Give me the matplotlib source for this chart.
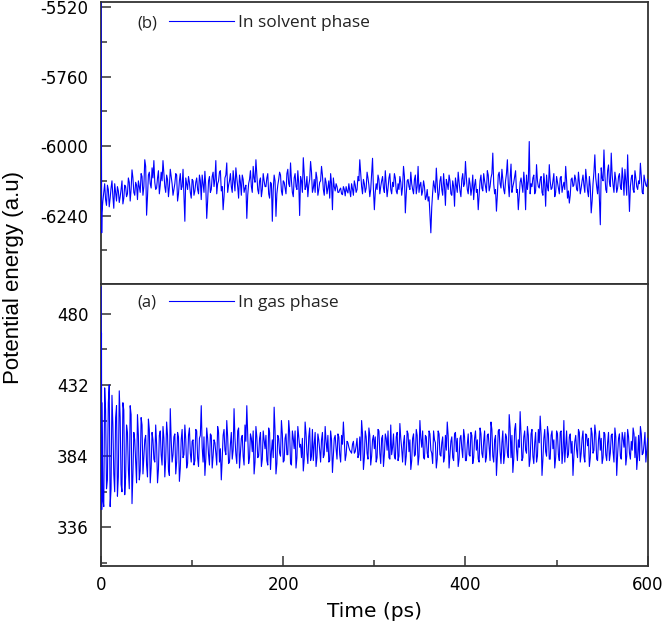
import matplotlib
matplotlib.use("Agg")
import matplotlib.pyplot as plt
from matplotlib.ticker import MultipleLocator
import numpy as np

plt.rcParams["axes.unicode_minus"] = False

# potential energy traces
# head: first picoseconds; *_EVEN: t = 2, 4, ..., 600 ps; *_ODD: t = 1, 3, ..., 599 ps
TIME_HEAD = [0.0, 0.25, 0.5, 0.75]
SOLVENT_HEAD = [-5505, -5800, -6050, -6300]
GAS_HEAD = [498, 440, 467, 348]

SOLVENT_EVEN = [
    -6190, -6130, -6205, -6150, -6180, -6120, -6215, -6160, -6140, -6195,
    -6150, -6200, -6135, -6175, -6110, -6190, -6082, -6160, -6125, -6185,
    -6140, -6095, -6170, -6047, -6239, -6100, -6130, -6075, -6050, -6150,
    -6110, -6165, -6090, -6050, -6140, -6100, -6175, -6080, -6130, -6150,
    -6095, -6190, -6120, -6150, -6080, -6260, -6130, -6105, -6160, -6115,
    -6170, -6125, -6150, -6100, -6185, -6130, -6087, -6250, -6120, -6160,
    -6105, -6140, -6050, -6130, -6090, -6155, -6220, -6110, -6058, -6135,
    -6095, -6160, -6120, -6075, -6140, -6100, -6170, -6115, -6145, -6250,
    -6130, -6085, -6160, -6110, -6047, -6150, -6120, -6175, -6095, -6140,
    -6110, -6165, -6125, -6260, -6100, -6243, -6135, -6090, -6155, -6120,
    -6145, -6095, -6130, -6058, -6160, -6110, -6140, -6085, -6240, -6120,
    -6040, -6150, -6105, -6135, -6053, -6160, -6115, -6090, -6170, -6125,
    -6070, -6150, -6110, -6165, -6120, -6095, -6220, -6140, -6130, -6160,
    -6150, -6165, -6140, -6172, -6155, -6130, -6175, -6148, -6120, -6160,
    -6105, -6047, -6140, -6115, -6160, -6090, -6135, -6150, -6042, -6220,
    -6130, -6100, -6165, -6120, -6145, -6085, -6175, -6110, -6150, -6125,
    -6095, -6155, -6130, -6105, -6170, -6070, -6231, -6120, -6140, -6090,
    -6150, -6115, -6165, -6070, -6135, -6170, -6120, -6185, -6150, -6175,
    -6300, -6160, -6140, -6076, -6185, -6120, -6150, -6095, -6205, -6130,
    -6100, -6165, -6120, -6208, -6135, -6090, -6155, -6115, -6140, -6053,
    -6150, -6110, -6170, -6100, -6135, -6160, -6220, -6120, -6145, -6095,
    -6140, -6085, -6155, -6110, -6024, -6165, -6225, -6100, -6130, -6080,
    -6150, -6120, -6047, -6175, -6062, -6140, -6105, -6160, -6220, -6125,
    -6135, -6090, -6220, -6150, -5984, -6130, -6110, -6165, -6064, -6140,
    -6115, -6160, -6095, -6208, -6140, -6064, -6150, -6120, -6175, -6105,
    -6145, -6110, -6160, -6125, -6070, -6180, -6197, -6115, -6140, -6100,
    -6150, -6090, -6165, -6120, -6135, -6080, -6155, -6105, -6231, -6130,
    -6030, -6140, -6095, -6272, -6110, -6013, -6150, -6085, -6125, -6024,
    -6135, -6090, -6160, -6105, -6140, -6075, -6170, -6120, -6030, -6226,
    -6110, -6150, -6085, -6140, -6120, -6059, -6160, -6100, -6135, -6115,
]

SOLVENT_ODD = [
    -6230, -6160, -6185, -6135, -6210, -6145, -6175, -6130, -6190, -6155,
    -6175, -6120, -6180, -6140, -6165, -6125, -6150, -6110, -6170, -6135,
    -6120, -6160, -6105, -6140, -6070, -6175, -6090, -6145, -6110, -6125,
    -6145, -6085, -6135, -6120, -6095, -6160, -6115, -6140, -6105, -6170,
    -6130, -6100, -6165, -6095, -6140, -6175, -6110, -6150, -6125, -6180,
    -6120, -6155, -6110, -6165, -6120, -6100, -6160, -6140, -6190, -6105,
    -6150, -6090, -6115, -6165, -6120, -6085, -6140, -6175, -6100, -6160,
    -6120, -6140, -6085, -6155, -6110, -6180, -6125, -6100, -6160, -6135,
    -6170, -6115, -6140, -6070, -6125, -6100, -6165, -6110, -6150, -6120,
    -6140, -6095, -6180, -6130, -6150, -6120, -6165, -6115, -6100, -6170,
    -6125, -6165, -6080, -6140, -6120, -6175, -6095, -6150, -6130, -6105,
    -6160, -6095, -6140, -6175, -6115, -6090, -6145, -6160, -6110, -6150,
    -6120, -6100, -6170, -6125, -6145, -6180, -6130, -6110, -6155, -6140,
    -6160, -6145, -6168, -6150, -6140, -6162, -6155, -6130, -6170, -6135,
    -6150, -6120, -6095, -6165, -6130, -6145, -6110, -6175, -6095, -6150,
    -6160, -6150, -6115, -6140, -6105, -6160, -6130, -6145, -6095, -6165,
    -6140, -6110, -6165, -6150, -6125, -6140, -6105, -6165, -6115, -6150,
    -6130, -6165, -6100, -6140, -6160, -6125, -6155, -6140, -6175, -6190,
    -6240, -6210, -6120, -6160, -6130, -6165, -6105, -6170, -6140, -6115,
    -6150, -6120, -6170, -6140, -6110, -6160, -6125, -6175, -6095, -6130,
    -6110, -6165, -6130, -6145, -6185, -6115, -6150, -6170, -6100, -6155,
    -6120, -6160, -6100, -6140, -6095, -6130, -6150, -6170, -6090, -6145,
    -6115, -6165, -6095, -6130, -6110, -6160, -6125, -6085, -6150, -6170,
    -6110, -6160, -6130, -6100, -6120, -6165, -6140, -6100, -6155, -6120,
    -6145, -6105, -6170, -6130, -6100, -6155, -6120, -6145, -6095, -6160,
    -6125, -6165, -6105, -6140, -6150, -6120, -6155, -6170, -6110, -6135,
    -6115, -6155, -6125, -6145, -6100, -6160, -6115, -6175, -6140, -6190,
    -6090, -6110, -6165, -6180, -6075, -6120, -6100, -6160, -6065, -6140,
    -6100, -6160, -6115, -6145, -6095, -6150, -6115, -6080, -6170, -6135,
    -6140, -6100, -6160, -6110, -6150, -6130, -6105, -6165, -6120, -6140,
]

GAS_EVEN = [
    355, 430, 362, 420, 350, 425, 372, 410, 357, 428,
    365, 420, 358, 405, 375, 418, 352, 400, 380, 412,
    368, 410, 372, 395, 378, 409, 366, 400, 382, 405,
    366, 398, 385, 404, 370, 407, 375, 416, 380, 397,
    372, 400, 367, 395, 383, 405, 376, 398, 386, 394,
    378, 402, 383, 396, 418, 380, 371, 403, 385, 399,
    376, 395, 386, 404, 380, 368, 398, 388, 408, 379,
    392, 382, 416, 385, 401, 376, 396, 384, 405, 418,
    379, 399, 387, 372, 404, 383, 396, 377, 401, 389,
    381, 403, 375, 395, 417, 372, 398, 386, 408, 380,
    396, 385, 408, 379, 401, 389, 376, 404, 390, 383,
    374, 407, 386, 397, 381, 402, 392, 377, 399, 388,
    395, 383, 404, 387, 380, 401, 373, 396, 389, 399,
    385, 398, 407, 381, 394, 390, 387, 392, 386, 391,
    383, 397, 408, 375, 401, 386, 403, 378, 395, 389,
    380, 402, 386, 396, 377, 399, 388, 383, 405, 390,
    384, 397, 381, 406, 389, 393, 378, 401, 387, 375,
    396, 384, 402, 378, 408, 390, 383, 398, 386, 401,
    388, 379, 395, 376, 401, 385, 393, 380, 398, 407,
    376, 394, 383, 399, 387, 377, 396, 389, 402, 381,
    392, 385, 400, 379, 396, 388, 382, 403, 386, 394,
    380, 398, 390, 407, 384, 395, 371, 401, 387, 393,
    379, 399, 386, 412, 383, 373, 402, 389, 395, 414,
    381, 397, 388, 404, 377, 399, 384, 393, 380, 402,
    411, 371, 396, 387, 404, 382, 398, 389, 376, 401,
    385, 400, 379, 408, 390, 383, 397, 386, 371, 394,
    388, 402, 380, 396, 384, 399, 391, 377, 403, 386,
    405, 382, 395, 388, 379, 400, 385, 393, 381, 398,
    387, 403, 371, 396, 384, 400, 390, 378, 402, 386,
    394, 403, 383, 375, 398, 404, 385, 392, 380, 396,
]

GAS_ODD = [
    420, 350, 415, 368, 432, 362, 405, 360, 418, 370,
    410, 360, 415, 370, 400, 362, 412, 372, 395, 366,
    398, 374, 405, 384, 398, 370, 402, 376, 395, 380,
    392, 375, 401, 378, 396, 382, 398, 371, 395, 385,
    399, 380, 397, 376, 402, 385, 395, 379, 403, 380,
    395, 381, 401, 377, 398, 390, 397, 382, 396, 378,
    398, 384, 393, 378, 400, 389, 382, 402, 385, 397,
    380, 400, 388, 396, 379, 403, 386, 398, 378, 394,
    398, 383, 396, 401, 380, 397, 384, 400, 382, 395,
    398, 378, 400, 387, 383, 401, 379, 396, 384, 399,
    381, 399, 385, 400, 378, 396, 401, 383, 397, 392,
    396, 382, 399, 379, 403, 384, 381, 400, 383, 395,
    380, 400, 385, 394, 398, 381, 395, 384, 398, 382,
    397, 380, 392, 395, 385, 393, 388, 386, 394, 387,
    396, 385, 381, 399, 383, 397, 382, 398, 384, 398,
    397, 383, 401, 379, 398, 385, 396, 401, 382, 385,
    399, 382, 400, 384, 396, 380, 398, 384, 399, 395,
    381, 399, 385, 398, 384, 396, 401, 382, 397, 383,
    399, 386, 401, 393, 382, 399, 384, 397, 383, 388,
    398, 385, 397, 381, 400, 396, 382, 398, 383, 397,
    381, 399, 384, 398, 383, 401, 395, 380, 399, 383,
    401, 383, 399, 381, 402, 380, 398, 384, 402, 379,
    401, 385, 397, 383, 403, 398, 382, 406, 381, 390,
    399, 383, 401, 386, 398, 382, 402, 379, 400, 384,
    393, 399, 382, 402, 384, 399, 382, 401, 395, 383,
    399, 381, 401, 387, 380, 401, 385, 399, 394, 384,
    398, 383, 400, 386, 401, 380, 398, 396, 383, 399,
    388, 399, 381, 401, 396, 383, 399, 381, 400, 386,
    399, 380, 397, 385, 399, 382, 396, 400, 384, 397,
    382, 388, 399, 397, 384, 381, 399, 386, 400, 388,
]

PANELS = [
    ("(b)", "In solvent phase", SOLVENT_HEAD, SOLVENT_ODD, SOLVENT_EVEN, (-6477, -5500), 240),
    ("(a)", "In gas phase", GAS_HEAD, GAS_ODD, GAS_EVEN, (310, 500), 48),
]

LINE_COLOR = "#0000ff"
SPINE_COLOR = "#333333"
TICK_FONT = "DejaVu Sans"
LEGEND_FONT = "Open Sans"


def build_trace(head, odd, even):
    t = np.concatenate([TIME_HEAD, np.arange(1, 2 * len(odd), 2), np.arange(2, 2 * len(even) + 1, 2)])
    y = np.concatenate([head, odd, even])
    order = np.argsort(t, kind="stable")
    return t[order], y[order]


def style_axis(ax, ylim, major, show_x):
    ax.set_xlim(0, 600)
    ax.set_ylim(*ylim)
    ax.yaxis.set_major_locator(MultipleLocator(major))
    ax.yaxis.set_minor_locator(MultipleLocator(major / 2))
    ax.xaxis.set_major_locator(MultipleLocator(200))
    ax.xaxis.set_minor_locator(MultipleLocator(100))
    for spine in ax.spines.values():
        spine.set_color(SPINE_COLOR)
        spine.set_linewidth(1.3)
    ax.tick_params(axis="y", which="both", direction="in", left=True, right=False,
                   color=SPINE_COLOR, width=1.1, pad=9, labelsize=12)
    ax.tick_params(axis="y", which="major", length=7)
    ax.tick_params(axis="y", which="minor", length=4)
    if show_x:
        ax.tick_params(axis="x", which="both", direction="in", top=False,
                       color=SPINE_COLOR, width=1.1, pad=7, labelsize=12)
        ax.tick_params(axis="x", which="major", length=7)
        ax.tick_params(axis="x", which="minor", length=4)
    else:
        ax.tick_params(axis="x", which="both", bottom=False, top=False, labelbottom=False)
    for lab in ax.get_xticklabels() + ax.get_yticklabels():
        lab.set_fontfamily(TICK_FONT)


fig = plt.figure(figsize=(6.66, 6.21), dpi=100)
left, width = 0.1517, 0.8208
ax_top = fig.add_axes([left, 0.5427, width, 0.4546])
ax_bot = fig.add_axes([left, 0.0886, width, 0.4541], sharex=ax_top)

for ax, (tag, label, head, odd, even, ylim, major) in zip([ax_top, ax_bot], PANELS):
    t, y = build_trace(head, odd, even)
    line, = ax.plot(t, y, color=LINE_COLOR, lw=0.8, label=label, zorder=3)
    style_axis(ax, ylim, major, show_x=(ax is ax_bot))
    ypos = 0.924 if ax is ax_top else 0.933
    ax.text(0.084, ypos, tag, transform=ax.transAxes, ha="center", va="center",
            fontsize=12, family=LEGEND_FONT, color="#222222")
    leg = ax.legend(handles=[line], loc="center left", bbox_to_anchor=(0.125, ypos),
                    frameon=False, handlelength=3.7, handletextpad=0.25,
                    borderpad=0, borderaxespad=0,
                    prop={"family": LEGEND_FONT, "size": 12.5})
    for txt in leg.get_texts():
        txt.set_color("#222222")
    leg.get_lines()[0].set_linewidth(0.8)

ax_bot.set_xlabel("Time (ps)", fontsize=14.5, family=TICK_FONT, labelpad=6)
fig.text(0.021, 1 - 277 / 621, "Potential energy (a.u)", rotation=90,
         ha="center", va="center", fontsize=16, family="Liberation Sans")

fig.savefig("out.png", dpi=100, facecolor="white")
